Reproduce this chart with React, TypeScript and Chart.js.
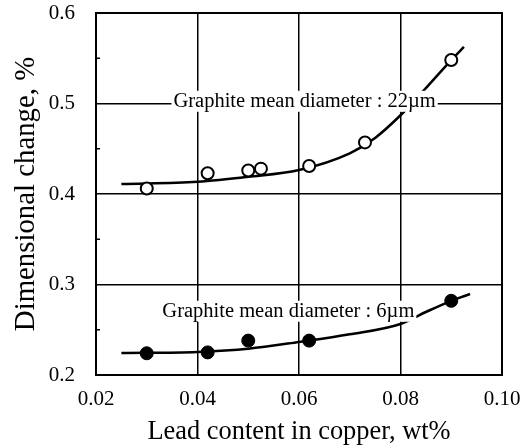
import React, { useEffect, useRef } from "react";
import { Chart, registerables } from "chart.js";

Chart.register(...registerables);

// Measured data (Graphite mean diameter 22 µm, open circles)
const lead22: number[] = [0.030, 0.042, 0.050, 0.0525, 0.062, 0.073, 0.090];
const dim22: number[] = [0.406, 0.423, 0.426, 0.428, 0.431, 0.457, 0.548];

// Measured data (Graphite mean diameter 6 µm, filled circles)
const lead6: number[] = [0.030, 0.042, 0.050, 0.062, 0.090];
const dim6: number[] = [0.224, 0.225, 0.238, 0.238, 0.282];

// Fitted curves
const curve22X: number[] = [0.025, 0.04, 0.05, 0.06, 0.07, 0.075, 0.08, 0.085, 0.09, 0.0925];
const curve22Y: number[] = [0.411, 0.4135, 0.419, 0.4265, 0.445, 0.462, 0.487, 0.517, 0.548, 0.5625];
const curve6X: number[] = [0.025, 0.04, 0.05, 0.06, 0.07, 0.08, 0.085, 0.09, 0.0937];
const curve6Y: number[] = [0.2243, 0.2255, 0.229, 0.2365, 0.245, 0.2564, 0.2696, 0.282, 0.2895];

// Tick labels
const xTickValues: number[] = [0.02, 0.04, 0.06, 0.08, 0.10];
const xTickLabels: string[] = ["0.02", "0.04", "0.06", "0.08", "0.10"];
const yTickValues: number[] = [0.2, 0.3, 0.4, 0.5, 0.6];
const yTickLabels: string[] = ["0.2", "0.3", "0.4", "0.5", "0.6"];
const yMinorTicks: number[] = [0.25, 0.35, 0.45, 0.55];

// Annotation labels
const labelTexts: string[] = ["Graphite mean diameter : 22µm", "Graphite mean diameter : 6µm"];
const labelX: number[] = [0.0611, 0.0579];
const labelY: number[] = [0.503, 0.271];

const FONT = "'Liberation Serif', 'Times New Roman', Times, serif";

function nearestLabel(v: number, values: number[], labels: string[]): string {
  let best = -1;
  let bd = Infinity;
  values.forEach((t, i) => {
    const d = Math.abs(t - v);
    if (d < bd) {
      bd = d;
      best = i;
    }
  });
  return bd < 1e-6 ? labels[best] : "";
}

function zeroPadding(s: any) {
  s.paddingTop = 0;
  s.paddingBottom = 0;
  s.paddingLeft = 0;
  s.paddingRight = 0;
}

const overlayPlugin = {
  id: "overlay",
  afterDatasetsDraw(chart: any) {
    const ctx = chart.ctx;
    const xs = chart.scales.x;
    const ys = chart.scales.y;
    ctx.save();
    ctx.font = `20.5px ${FONT}`;
    ctx.textAlign = "center";
    ctx.textBaseline = "middle";
    labelTexts.forEach((t, i) => {
      const px = xs.getPixelForValue(labelX[i]);
      const py = ys.getPixelForValue(labelY[i]);
      const w = ctx.measureText(t).width;
      ctx.fillStyle = "#fff";
      ctx.fillRect(px - w / 2 - 2, py - 10, w + 4, 21);
      ctx.fillStyle = "#000";
      ctx.fillText(t, px, py + 1);
    });
    ctx.restore();
  },
  afterDraw(chart: any) {
    const ctx = chart.ctx;
    const a = chart.chartArea;
    const ys = chart.scales.y;
    ctx.save();
    ctx.strokeStyle = "#000";
    ctx.lineWidth = 2;
    ctx.strokeRect(a.left, a.top, a.right - a.left, a.bottom - a.top);
    ctx.lineWidth = 1.5;
    yMinorTicks.forEach((v) => {
      const py = ys.getPixelForValue(v);
      ctx.beginPath();
      ctx.moveTo(a.left, py);
      ctx.lineTo(a.left + 4, py);
      ctx.stroke();
    });
    ctx.restore();
  },
};

export default function App() {
  const ref = useRef<HTMLCanvasElement | null>(null);

  useEffect(() => {
    if (!ref.current) return;
    const chart = new Chart(ref.current, {
      type: "scatter",
      data: {
        datasets: [
          {
            label: "22µm",
            data: lead22.map((x, i) => ({ x, y: dim22[i] })),
            pointRadius: 6,
            pointBackgroundColor: "#fff",
            pointBorderColor: "#000",
            pointBorderWidth: 2,
            showLine: false,
            order: 0,
          },
          {
            label: "6µm",
            data: lead6.map((x, i) => ({ x, y: dim6[i] })),
            pointRadius: 6.5,
            pointBackgroundColor: "#000",
            pointBorderColor: "#000",
            pointBorderWidth: 1,
            showLine: false,
            order: 0,
          },
          {
            label: "fit22",
            data: curve22X.map((x, i) => ({ x, y: curve22Y[i] })),
            showLine: true,
            pointRadius: 0,
            borderColor: "#000",
            borderWidth: 2.5,
            cubicInterpolationMode: "monotone",
            order: 1,
          },
          {
            label: "fit6",
            data: curve6X.map((x, i) => ({ x, y: curve6Y[i] })),
            showLine: true,
            pointRadius: 0,
            borderColor: "#000",
            borderWidth: 2.5,
            cubicInterpolationMode: "monotone",
            order: 1,
          },
        ],
      },
      options: {
        responsive: false,
        animation: false,
        devicePixelRatio: 1,
        layout: { autoPadding: false, padding: { top: 13, right: 20, left: 0, bottom: 0 } },
        plugins: {
          legend: { display: false },
          tooltip: { enabled: false },
        },
        scales: {
          x: {
            type: "linear",
            min: 0.02,
            max: 0.1,
            afterFit: (s: any) => {
              s.height = 73;
              zeroPadding(s);
            },
            ticks: {
              stepSize: 0.02,
              color: "#000",
              padding: 12,
              maxRotation: 0,
              font: { family: FONT, size: 21 },
              callback: (v: any) => nearestLabel(Number(v), xTickValues, xTickLabels),
            },
            grid: { color: "#000", lineWidth: 1.5, drawTicks: false },
            border: { display: true, color: "#000", width: 2 },
            title: {
              display: true,
              text: "Lead content in copper, wt%",
              color: "#000",
              font: { family: FONT, size: 26.4 },
              padding: { top: 0, bottom: 0 },
            },
          },
          y: {
            type: "linear",
            min: 0.2,
            max: 0.6,
            afterFit: (s: any) => {
              s.width = 96;
              zeroPadding(s);
            },
            ticks: {
              stepSize: 0.1,
              color: "#000",
              padding: 21,
              font: { family: FONT, size: 21 },
              callback: (v: any) => nearestLabel(Number(v), yTickValues, yTickLabels),
            },
            grid: { color: "#000", lineWidth: 1.5, drawTicks: false },
            border: { display: true, color: "#000", width: 2 },
            title: {
              display: true,
              text: "Dimensional change, %",
              color: "#000",
              font: { family: FONT, size: 28.8 },
              padding: { top: 9, bottom: 0 },
            },
          },
        },
      },
      plugins: [overlayPlugin],
    } as any);
    return () => chart.destroy();
  }, []);

  return (
    <div style={{ position: "fixed", left: 0, top: 0, width: 522, height: 448, background: "#fff" }}>
      <canvas ref={ref} width={522} height={448} style={{ display: "block" }} />
    </div>
  );
}
